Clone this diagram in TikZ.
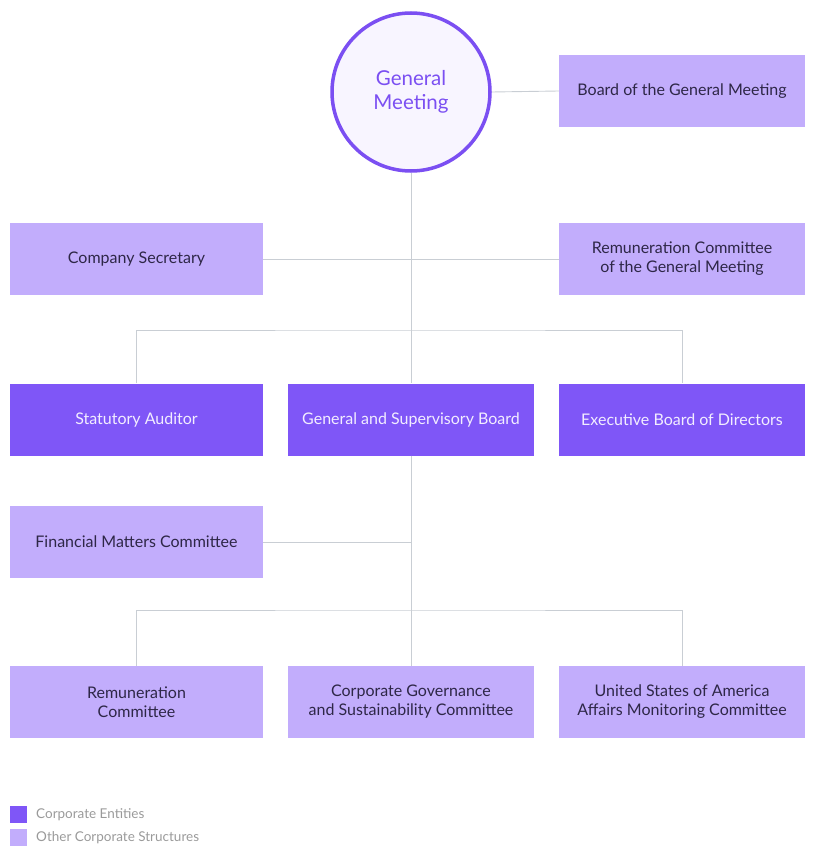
\documentclass[tikz,border=0pt]{standalone}
\usepackage{fontspec}
\setmainfont{Lato}
\definecolor{dark}{HTML}{7F56F7}
\definecolor{light}{HTML}{C2ADFC}
\definecolor{ring}{HTML}{7B4FF2}
\definecolor{ringfill}{HTML}{F8F5FF}
\definecolor{conn}{HTML}{C9CED4}
\definecolor{dtext}{HTML}{2E2747}
\definecolor{ltext}{HTML}{F2EDFF}
\definecolor{legtext}{HTML}{9A9A9A}
\tikzset{
  box/.style={rectangle, minimum width=246pt, minimum height=72pt, inner sep=0pt, align=center, font=\fontsize{16}{19}\selectfont},
  lbox/.style={box, fill=light, text=dtext},
  dbox/.style={box, fill=dark, text=ltext},
  wbox/.style={minimum width=253pt},
  conline/.style={draw=conn, line width=0.9pt},
  legsq/.style={rectangle, minimum size=17pt, inner sep=0pt},
  legtx/.style={anchor=west, inner sep=0pt, text=legtext, font=\fontsize{13.5}{15}\selectfont}
}
\begin{document}
\begin{tikzpicture}[x=1pt,y=-1pt]
\useasboundingbox (0,0) rectangle (814,859);
\node[circle, draw=ring, line width=3.5pt, fill=ringfill, minimum size=158pt, inner sep=0pt, align=center, text=ring, font=\fontsize{20.5}{24}\selectfont] (gm) at (411,92) {General\\Meeting};
\node[lbox] (bgm) at (682,91) {Board of the General Meeting};
\node[lbox, wbox] (cs) at (136.5,259) {Company Secretary};
\node[lbox] (rcgm) at (682,259) {Remuneration Committee\\of the General Meeting};
\node[dbox, wbox] (sa) at (136.5,419.5) {Statutory Auditor};
\node[dbox] (gsb) at (411,419.5) {General and Supervisory Board};
\node[dbox] (ebd) at (682,419.5) {Executive Board of Directors};
\node[lbox, wbox] (fmc) at (136.5,542) {Financial Matters Committee};
\node[lbox, wbox] (rc) at (136.5,702) {Remuneration\\Committee};
\node[lbox] (cgsc) at (411,702) {Corporate Governance\\and Sustainability Committee};
\node[lbox] (usa) at (682,702) {United States of America\\Affairs Monitoring Committee};
\coordinate (bus1) at (411,330);
\coordinate (bus2) at (411,610);
\draw[conline] (gm.east) -- (bgm.west);
\draw[conline] (gm.south) -- (gsb.north);
\draw[conline] (cs.east) -- (rcgm.west);
\draw[conline] (sa.north) |- (bus1) -| (ebd.north);
\draw[conline] (gsb.south) -- (cgsc.north);
\draw[conline] (fmc.east) -- (fmc.east -| gsb.south);
\draw[conline] (rc.north) |- (bus2) -| (usa.north);
% legend
\node[legsq, fill=dark] (l1) at (18.5,814.5) {};
\node[legsq, fill=light] (l2) at (18.5,837.5) {};
\node[legtx] (t1) at (36,814.5) {Corporate Entities};
\node[legtx] (t2) at (36,837.5) {Other Corporate Structures};
\end{tikzpicture}
\end{document}
